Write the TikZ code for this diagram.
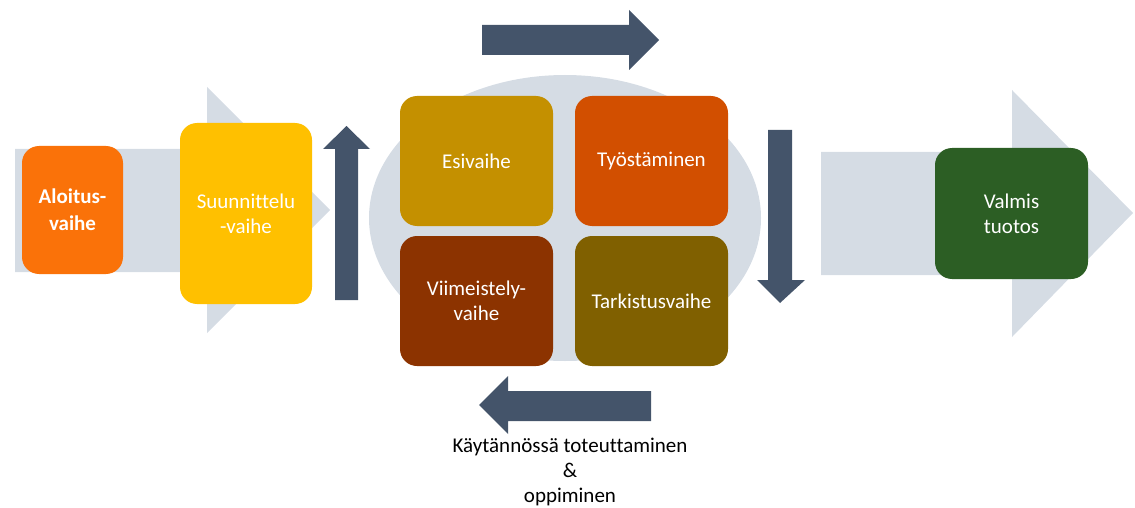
\documentclass[tikz,border=0pt]{standalone}
\usepackage{fontspec}
\setmainfont{Carlito}[Ligatures=NoCommon]
\definecolor{pale}{HTML}{D5DCE4}
\definecolor{navy}{HTML}{44546A}
\definecolor{cOrange}{HTML}{FA7209}
\definecolor{cYellow}{HTML}{FFC000}
\definecolor{cGold}{HTML}{C49000}
\definecolor{cRust}{HTML}{D24F00}
\definecolor{cBrown}{HTML}{8C3300}
\definecolor{cOlive}{HTML}{806000}
\definecolor{cGreen}{HTML}{2C5E24}
\tikzset{
  phase/.style={rounded corners=17pt, inner sep=2pt, text=white, align=center,
    font=\fontsize{21}{25}\selectfont},
}
\begin{document}
\begin{tikzpicture}[x=1pt,y=-1pt]
\useasboundingbox (0,0) rectangle (1135,508);
% big pale arrows
\fill[pale] (15,149) -- (207,149) -- (207,87) -- (330,210) -- (207,333) -- (207,272) -- (15,272) -- cycle;
\fill[pale] (821,152) -- (1012,152) -- (1012,90) -- (1133,213) -- (1012,337) -- (1012,275) -- (821,275) -- cycle;
% ellipse
\fill[pale] (565,218) ellipse [x radius=196, y radius=143];
% navy arrows
\fill[navy] (335,300) -- (335,149) -- (323,149) -- (346.5,126) -- (370,149) -- (358,149) -- (358,300) -- cycle;
\fill[navy] (482,25) -- (629,25) -- (629,10) -- (659,40) -- (629,70) -- (629,55) -- (482,55) -- cycle;
\fill[navy] (768,130) -- (792,130) -- (792,280) -- (805,280) -- (780,303) -- (757,280) -- (768,280) -- cycle;
\fill[navy] (651,391) -- (508,391) -- (508,376) -- (479,405) -- (508,434) -- (508,421) -- (651,421) -- cycle;
% phase boxes
\node[phase, fill=cOrange, minimum width=101pt, minimum height=128pt, font=\fontsize{21}{27}\selectfont\bfseries] (aloitus) at (72.5,210) {Aloitus-\\vaihe};
\node[phase, fill=cYellow, minimum width=132pt, minimum height=181pt] (suunn) at (246,213.5) {Suunnittelu\\-vaihe};
\node[phase, fill=cGold, minimum width=153pt, minimum height=130pt] (esi) at (476.5,161) {Esivaihe};
\node[phase, fill=cRust, minimum width=153pt, minimum height=130pt] (tyo) at (651.5,161) {Työstäminen};
\node[phase, fill=cBrown, minimum width=153pt, minimum height=130pt] (viim) at (476.5,301) {Viimeistely-\\vaihe};
\node[phase, fill=cOlive, minimum width=153pt, minimum height=130pt] (tark) at (651.5,301) {Tarkistusvaihe};
\node[phase, fill=cGreen, minimum width=153pt, minimum height=131pt] (valmis) at (1011.5,213.5) {Valmis\\tuotos};
% caption
\node[align=center, font=\fontsize{21}{25}\selectfont] (caption) at (570,472) {Käytännössä toteuttaminen\\\&\\oppiminen};
\end{tikzpicture}
\end{document}
